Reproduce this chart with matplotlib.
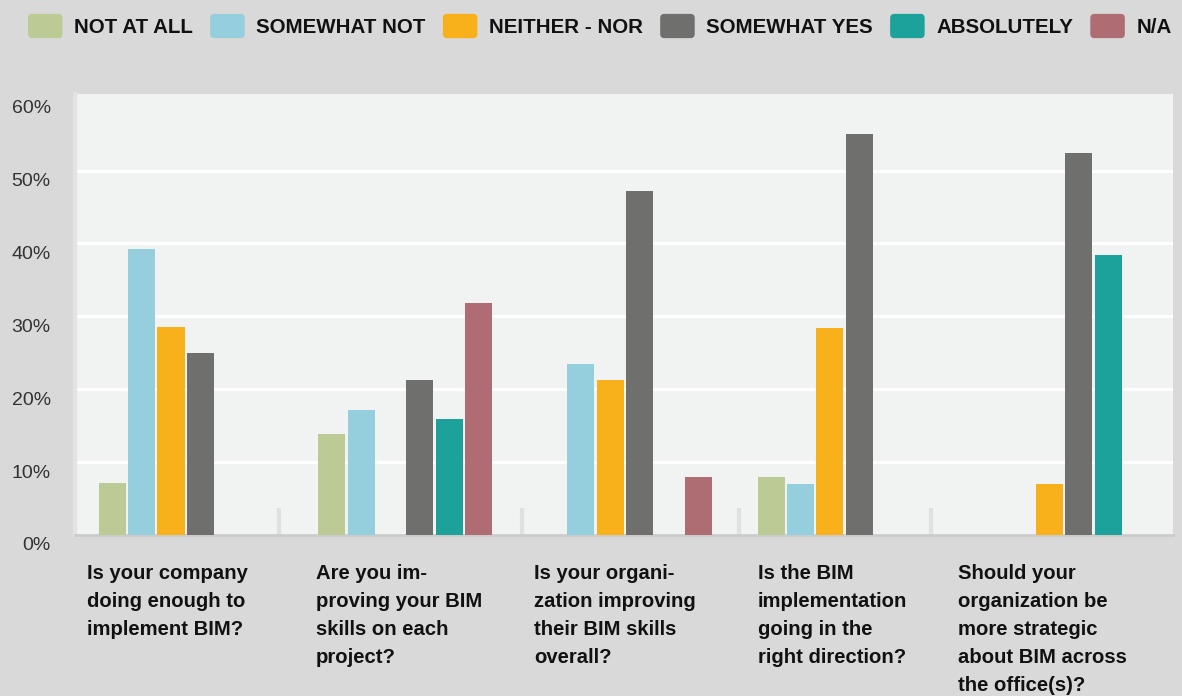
import numpy as np
import matplotlib
matplotlib.use('Agg')
import matplotlib.pyplot as plt
from matplotlib.patches import Patch, FancyBboxPatch
from matplotlib.legend_handler import HandlerBase
from matplotlib.transforms import ScaledTranslation

plt.rcParams['font.family'] = ['Liberation Sans', 'DejaVu Sans']

# data (percent of answers)
questions = ['Is your company\ndoing enough to\nimplement BIM?',
             'Are you im-\nproving your BIM\nskills on each\nproject?',
             'Is your organi-\nzation improving\ntheir BIM skills\noverall?',
             'Is the BIM\nimplementation\ngoing in the\nright direction?',
             'Should your\norganization be\nmore strategic\nabout BIM across\nthe office(s)?']
answers = ['NOT AT ALL', 'SOMEWHAT NOT', 'NEITHER - NOR', 'SOMEWHAT YES', 'ABSOLUTELY', 'N/A']
not_at_all = [7.1, 13.8, 0, 7.9, 0]
somewhat_not = [39.3, 17.1, 23.4, 7.0, 0]
neither_nor = [28.6, 0, 21.2, 28.4, 7.0]
somewhat_yes = [25.0, 21.2, 47.2, 55.0, 52.4]
absolutely = [0, 15.9, 0, 0, 38.4]
n_a = [0, 31.8, 7.9, 0, 0]
series = [not_at_all, somewhat_not, neither_nor, somewhat_yes, absolutely, n_a]
colors = ['#bccb96', '#95cedc', '#f8b11a', '#6f6f6d', '#1ca29b', '#b06c73']
yticks = [0, 10, 20, 30, 40, 50, 60]


class RoundHandler(HandlerBase):
    def create_artists(self, legend, orig_handle, xdescent, ydescent,
                       width, height, fontsize, trans):
        p = FancyBboxPatch((-xdescent, -ydescent), width, height,
                           boxstyle='round,pad=0,rounding_size=3',
                           fc=orig_handle.get_facecolor(), ec='none',
                           transform=trans)
        return [p]


fig = plt.figure(figsize=(11.82, 6.96), dpi=100)
fig.patch.set_facecolor('#d9d9d9')
ax = fig.add_axes([75 / 1182, 1 - 535 / 696, (1173 - 75) / 1182, (535 - 94) / 696])
ax.set_facecolor('#f1f2f2')

x = np.arange(len(questions))
pitch = 0.1337
width = 0.123
for i, (vals, c) in enumerate(zip(series, colors)):
    ax.bar(x + (i - 2.5) * pitch + 0.004, vals, width, color=c, label=answers[i], zorder=3)

# small separators between groups
ax.vlines([0.43, 1.535, 2.525, 3.40], 0, 3.7, color='#e0e0e0', lw=3, zorder=2)

ax.set_xlim(-0.5, 4.5)
ax.set_ylim(0, 60.5)
ax.set_yticks(yticks)
ax.set_yticklabels([f'{t}%' for t in yticks], fontsize=14, color='#333333')
ax.yaxis.grid(True, color='white', lw=2.2, zorder=1)
ax.yaxis.get_gridlines()[-1].set_visible(False)
ax.set_axisbelow(True)
ax.tick_params(axis='y', length=0, pad=24)
for lab in ax.get_yticklabels():
    lab.set_transform(lab.get_transform() + ScaledTranslation(0.09, -0.09, fig.dpi_scale_trans))

ax.set_xticks([-0.446, 0.598, 1.592, 2.608, 3.520])
ax.set_xticklabels(questions, ha='left', va='top', fontsize=14.6,
                   fontweight='bold', color='#111111', linespacing=1.6)
ax.tick_params(axis='x', length=0, pad=21)

for s in ['top', 'right']:
    ax.spines[s].set_visible(False)
ax.spines['left'].set_color('#e3e3e3')
ax.spines['left'].set_linewidth(3)
ax.spines['bottom'].set_color('#cbcbcb')
ax.spines['bottom'].set_linewidth(2)

handles = [Patch(facecolor=c) for c in colors]
leg = fig.legend(handles, answers, loc='center left', ncol=6,
                 bbox_to_anchor=(28 / 1182, 1 - 26 / 696), frameon=False,
                 handler_map={Patch: RoundHandler()},
                 prop={'weight': 'bold', 'size': 14.8},
                 handlelength=1.68, handleheight=1.44, handletextpad=0.57,
                 columnspacing=0.83, borderpad=0, borderaxespad=0)
for t in leg.get_texts():
    t.set_color('#111111')

fig.savefig('out.png', dpi=100, facecolor=fig.get_facecolor())
